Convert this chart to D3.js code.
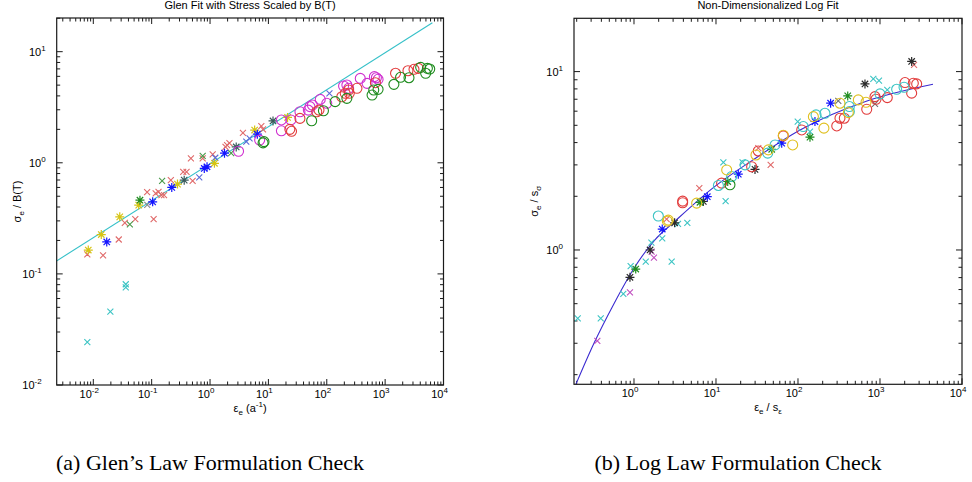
<!DOCTYPE html>
<html>
<head>
<meta charset="utf-8">
<script src="https://cdn.jsdelivr.net/npm/d3@7"></script>
<style>
  body { margin: 0; background: #fff; }
  svg { display: block; }
  .axis-text { font-family: "Liberation Sans", Arial, sans-serif; fill: #000; }
  .caption { font-family: "Liberation Serif", "DejaVu Serif", serif; fill: #000; }
</style>
</head>
<body>
<svg id="chart" width="972" height="482"></svg>
<script>
// Glen fit panel (a): [strain rate, stress / B(T)]
var glenCyanCross = [[0.0079, 0.0243], [0.0196, 0.0458], [0.036, 0.0807], [0.036, 0.0755]];
var glenRedCross = [[0.0079, 0.150], [0.0147, 0.147], [0.0273, 0.204], [0.0347, 0.288], [0.0524, 0.311],
  [0.108, 0.311], [0.0836, 0.545], [0.117, 0.530], [0.131, 0.548], [0.147, 0.512], [0.163, 0.512],
  [0.213, 0.698], [0.347, 0.830], [0.396, 0.830], [0.503, 0.689], [0.470, 1.096], [0.748, 1.096],
  [1.11, 1.19], [1.96, 1.44], [1.84, 1.39], [2.15, 1.50], [3.66, 1.86], [7.57, 2.14], [8.09, 2.0]];
var glenGreenCross = [[0.0423, 0.279], [0.151, 0.689], [0.748, 1.156], [2.30, 1.22]];
var glenBlueCross = [[0.654, 0.738], [1.23, 1.11], [4.18, 1.55], [4.76, 1.66], [111, 4.22]];
var glenGrayCross = [[0.084, 0.419]];
var glenYellowStar = [[0.0082, 0.164], [0.0137, 0.226], [0.0284, 0.326], [0.060, 0.416], [0.277, 0.643],
  [1.19, 0.99], [5.81, 1.97], [21.3, 2.56]];
var glenBlueStar = [[0.017, 0.194], [0.104, 0.445], [0.221, 0.600], [0.797, 0.89], [0.888, 0.92], [1.77, 1.22], [6.46, 1.81]];
var glenGreenStar = [[0.063, 0.461]];
var glenGrayStar = [[0.361, 0.698], [2.81, 1.39], [12.0, 2.38]];
var glenMagentaCircle = [[3.08, 1.27], [7.08, 1.60], [16.7, 2.43], [24.3, 2.43], [16.7, 1.94], [34.7, 2.88],
  [48.3, 2.98], [51.5, 3.2], [56.6, 3.31], [77.3, 3.72], [100, 3.43], [194, 4.91], [221, 5.01], [237, 4.68],
  [375, 5.75], [490, 5.19], [654, 5.96], [708, 5.83], [757, 5.64]];
var glenRedCircle = [[23.3, 2.0], [24.9, 1.92], [34.7, 2.51], [67.3, 2.88], [73.6, 2.98], [181, 3.93], [207, 4.22],
  [243, 4.22], [237, 4.52], [329, 4.68], [681, 5.26], [1507, 6.39], [2460, 6.74], [3121, 6.94], [3707, 7.08]];
var glenGreenCircle = [[8.1, 1.51], [8.4, 1.55], [55.1, 2.39], [87.7, 2.94], [139, 3.55], [221, 3.80], [638, 4.52],
  [757, 4.58], [597, 4.07], [1413, 5.08], [1836, 5.88], [2562, 5.83], [4063, 7.23], [5297, 7.08], [5808, 6.98], [4950, 6.39]];
var glenFit = [[0.0022, 0.128], [6450, 18.2]];

// Log fit panel (b): [scaled strain rate, scaled stress]
var logCyanCross = [[0.206, 0.414], [0.393, 0.414], [0.741, 0.567], [0.91, 0.813], [1.39, 0.86], [1.63, 1.1],
  [2.88, 0.86], [2.21, 1.16], [3.44, 1.40], [4.47, 1.42], [13.1, 1.88], [12.3, 3.1], [21.1, 3.1], [99.2, 5.25],
  [140, 4.61], [829, 9.1], [972, 8.9], [1227, 7.89]];
var logMagentaCross = [[0.357, 0.309], [0.893, 0.579], [1.64, 0.98], [1.75, 0.906]];
var logRedCross = [[2.5, 1.49], [6.26, 2.22], [32.8, 3.72], [46.4, 3.0], [2600, 10.9]];
var logGrayCross = [[310, 6.85], [869, 6.59]];
var logBlackStar = [[0.893, 0.703], [1.57, 1.0], [3.13, 1.42], [7.0, 1.87], [29.9, 2.83], [656, 8.53], [2433, 11.4]];
var logBlueStar = [[2.21, 1.31], [7.83, 1.99], [18.7, 2.66], [63.3, 3.97], [161, 5.25], [250, 6.65]];
var logGreenStar = [[1.05, 0.782], [6.38, 1.85], [13.9, 2.42], [47.8, 3.67], [140, 4.29], [404, 7.31]];
var logRedCircle = [[3.92, 1.84], [3.92, 1.88], [11.7, 2.37], [27.2, 2.93], [32.8, 3.59], [66.2, 4.36], [111, 4.71],
  [297, 4.96], [325, 5.48], [367, 5.48], [689, 6.15], [869, 7.24], [894, 7.0], [1227, 7.15], [2018, 8.68],
  [2433, 7.57], [2548, 8.61], [2800, 8.53]];
var logCyanCircle = [[1.98, 1.55], [10.7, 2.3], [15.5, 2.58], [22.6, 3.0], [42.7, 3.49], [52.5, 3.88], [116, 4.92],
  [166, 5.72], [213, 5.84], [423, 6.37], [423, 5.97], [1000, 7.5], [1596, 7.96], [1963, 8.17]];
var logYellowCircle = [[2.55, 1.45], [2.62, 1.47], [5.81, 1.83], [13.5, 2.81], [30.7, 3.41], [43.5, 3.64], [86.1, 3.88],
  [66.2, 4.4], [154, 5.59], [207, 4.82], [325, 6.65], [411, 5.89], [544, 6.94], [675, 6.73]];
var logGreenCircle = [[14.8, 2.32]];
var logFit = [[0.196, 0.177], [0.325, 0.30], [0.57, 0.50], [1.0, 0.79], [1.8, 1.14], [3.16, 1.45], [9.2, 2.23],
  [28.3, 3.2], [106, 4.71], [694, 6.85], [4430, 8.5]];

var panelTitles = ["Glen Fit with Stress Scaled by B(T)", "Non-Dimensionalized Log Fit"];
var captions = ["(a) Glen\u2019s Law Formulation Check", "(b) Log Law Formulation Check"];

var colors = {
  red: "#e23c3c", redLight: "#e06a6a", green: "#1e8c1e", blue: "#1414ff", cyan: "#3cc4c4",
  magenta: "#d030d0", yellow: "#d6c414", gray: "#505050", black: "#2a2a2a"
};

var svg = d3.select("#chart");

function drawMarker(g, kind, color, x, y) {
  if (kind === "x") {
    var s = 3;
    g.append("path").attr("d", "M" + (x - s) + "," + (y - s) + "L" + (x + s) + "," + (y + s) +
      "M" + (x - s) + "," + (y + s) + "L" + (x + s) + "," + (y - s))
      .attr("stroke", color).attr("stroke-width", 1.1).attr("fill", "none");
  } else if (kind === "*") {
    var a = 4.5, d = 3.2;
    g.append("path").attr("d", "M" + (x - a) + "," + y + "L" + (x + a) + "," + y +
      "M" + x + "," + (y - a) + "L" + x + "," + (y + a) +
      "M" + (x - d) + "," + (y - d) + "L" + (x + d) + "," + (y + d) +
      "M" + (x - d) + "," + (y + d) + "L" + (x + d) + "," + (y - d))
      .attr("stroke", color).attr("stroke-width", 1.2).attr("fill", "none");
  } else {
    g.append("circle").attr("cx", x).attr("cy", y).attr("r", 5)
      .attr("stroke", color).attr("stroke-width", 1.1).attr("fill", "none");
  }
}

function powerLabel(sel, exp) {
  sel.append("tspan").text("10");
  sel.append("tspan").attr("dy", -5).attr("font-size", 8).text(exp);
}

function drawPanel(p) {
  var x = d3.scaleLog().domain(p.xDomain).range([p.left, p.right]);
  var y = d3.scaleLog().domain(p.yDomain).range([p.bottom, p.top]);
  var g = svg.append("g");

  var clip = "clip" + p.id;
  svg.append("clipPath").attr("id", clip).append("rect")
    .attr("x", p.left).attr("y", p.top).attr("width", p.right - p.left).attr("height", p.bottom - p.top);

  // ticks (inside, on all four sides)
  var ax = g.append("g").attr("stroke", "#1a1a1a").attr("stroke-width", 1);
  var lo, hi, k, v, len, e;
  lo = Math.floor(Math.log10(p.xDomain[0])); hi = Math.ceil(Math.log10(p.xDomain[1]));
  for (e = lo; e <= hi; e++) {
    for (k = 1; k <= 9; k++) {
      v = k * Math.pow(10, e);
      if (v < p.xDomain[0] * 0.999 || v > p.xDomain[1] * 1.001) continue;
      len = k === 1 ? 6 : 3.5;
      ax.append("line").attr("x1", x(v)).attr("x2", x(v)).attr("y1", p.bottom).attr("y2", p.bottom - len);
      ax.append("line").attr("x1", x(v)).attr("x2", x(v)).attr("y1", p.top).attr("y2", p.top + len);
      if (k === 1) {
        var t = g.append("text").attr("class", "axis-text").attr("font-size", 11)
          .attr("x", x(v) - 4).attr("y", p.bottom + 13).attr("text-anchor", "middle");
        powerLabel(t, e);
      }
    }
  }
  lo = Math.floor(Math.log10(p.yDomain[0])); hi = Math.ceil(Math.log10(p.yDomain[1]));
  for (e = lo; e <= hi; e++) {
    for (k = 1; k <= 9; k++) {
      v = k * Math.pow(10, e);
      if (v < p.yDomain[0] * 0.999 || v > p.yDomain[1] * 1.001) continue;
      len = k === 1 ? 6 : 3.5;
      ax.append("line").attr("x1", p.left).attr("x2", p.left + len).attr("y1", y(v)).attr("y2", y(v));
      ax.append("line").attr("x1", p.right).attr("x2", p.right - len).attr("y1", y(v)).attr("y2", y(v));
      if (k === 1) {
        var ty = g.append("text").attr("class", "axis-text").attr("font-size", 11)
          .attr("x", p.left - 6 - (String(e).length > 1 ? 9 : 5)).attr("y", y(v) + 4).attr("text-anchor", "end");
        powerLabel(ty, e);
      }
    }
  }

  // fit line
  var line = d3.line().x(function(d) { return x(d[0]); }).y(function(d) { return y(d[1]); })
    .curve(p.smooth ? d3.curveMonotoneX : d3.curveLinear);
  g.append("path").datum(p.fit).attr("d", line).attr("clip-path", "url(#" + clip + ")")
    .attr("fill", "none").attr("stroke", p.fitColor).attr("stroke-width", 1.1);

  // scatter series
  var mk = g.append("g").attr("clip-path", "url(#" + clip + ")");
  p.series.forEach(function(s) {
    s.data.forEach(function(d) { drawMarker(mk, s.kind, s.color, x(d[0]), y(d[1])); });
  });

  g.append("rect").attr("x", p.left).attr("y", p.top).attr("width", p.right - p.left).attr("height", p.bottom - p.top)
    .attr("fill", "none").attr("stroke", "#1a1a1a").attr("stroke-width", 1.2);

  // title and axis labels
  var cx = (p.left + p.right) / 2;
  g.append("text").attr("class", "axis-text").attr("font-size", 11).attr("x", cx).attr("y", 9)
    .attr("text-anchor", "middle").text(p.title);

  var xl = g.append("text").attr("class", "axis-text").attr("font-size", 11)
    .attr("x", cx).attr("y", p.bottom + 27).attr("text-anchor", "middle");
  xl.append("tspan").text("\u03b5");
  xl.append("tspan").attr("dy", 3).attr("font-size", 8).text("e");
  xl.append("tspan").attr("dy", -3).text(p.xLabelRest);
  if (p.xLabelSup) {
    xl.append("tspan").attr("dy", -5).attr("font-size", 8).text(p.xLabelSup);
    xl.append("tspan").attr("dy", 5).text(")");
  }

  var yl = g.append("text").attr("class", "axis-text").attr("font-size", 11)
    .attr("transform", "translate(" + p.yLabelX + "," + ((p.top + p.bottom) / 2) + ") rotate(-90)")
    .attr("text-anchor", "middle");
  yl.append("tspan").text("\u03c3");
  yl.append("tspan").attr("dy", 3).attr("font-size", 8).text("e");
  yl.append("tspan").attr("dy", -3).text(p.yLabelRest);
  if (p.yLabelSub) {
    yl.append("tspan").attr("dy", 3).attr("font-size", 8).text(p.yLabelSub);
  }

  svg.append("text").attr("class", "caption").attr("font-size", 22)
    .attr("x", p.captionX).attr("y", 470).attr("text-anchor", "middle").text(p.caption);
}

drawPanel({
  id: "a", left: 56.7, right: 443.5, top: 18, bottom: 385,
  xDomain: [0.00236, 10000], yDomain: [0.01, 20.1],
  title: panelTitles[0], caption: captions[0], captionX: 210,
  xLabelRest: " (a", xLabelSup: "-1", yLabelRest: " / B(T)", yLabelX: 21,
  fit: glenFit, fitColor: "#35c0c8", smooth: false,
  series: [
    {data: glenCyanCross, kind: "x", color: colors.cyan},
    {data: glenRedCross, kind: "x", color: colors.redLight},
    {data: glenGreenCross, kind: "x", color: "#4a9a4a"},
    {data: glenBlueCross, kind: "x", color: "#5a6ad8"},
    {data: glenGrayCross, kind: "x", color: "#8a8a8a"},
    {data: glenYellowStar, kind: "*", color: colors.yellow},
    {data: glenBlueStar, kind: "*", color: colors.blue},
    {data: glenGreenStar, kind: "*", color: colors.green},
    {data: glenGrayStar, kind: "*", color: "#3a5a5a"},
    {data: glenMagentaCircle, kind: "o", color: colors.magenta},
    {data: glenRedCircle, kind: "o", color: colors.red},
    {data: glenGreenCircle, kind: "o", color: colors.green}
  ]
});

drawPanel({
  id: "b", left: 574, right: 962, top: 18.3, bottom: 384.3,
  xDomain: [0.1855, 10000], yDomain: [0.1766, 19.9],
  title: panelTitles[1], caption: captions[1], captionX: 738,
  xLabelRest: " / s", xLabelSup: null, yLabelRest: " / s", yLabelSub: "\u03c3", yLabelX: 538,
  fit: logFit, fitColor: "#3a2ad0", smooth: true,
  series: [
    {data: logCyanCross, kind: "x", color: colors.cyan},
    {data: logMagentaCross, kind: "x", color: "#c050c0"},
    {data: logRedCross, kind: "x", color: colors.redLight},
    {data: logGrayCross, kind: "x", color: "#707070"},
    {data: logBlackStar, kind: "*", color: colors.black},
    {data: logBlueStar, kind: "*", color: colors.blue},
    {data: logGreenStar, kind: "*", color: colors.green},
    {data: logRedCircle, kind: "o", color: colors.red},
    {data: logCyanCircle, kind: "o", color: colors.cyan},
    {data: logYellowCircle, kind: "o", color: "#e0c020"},
    {data: logGreenCircle, kind: "o", color: colors.green}
  ]
});

// subscript epsilon on panel (b) x label
d3.selectAll("text.axis-text").filter(function() { return d3.select(this).text() === "\u03b5e / s"; })
  .append("tspan").attr("dy", 3).attr("font-size", 8).text("\u03b5");
</script>
</body>
</html>
